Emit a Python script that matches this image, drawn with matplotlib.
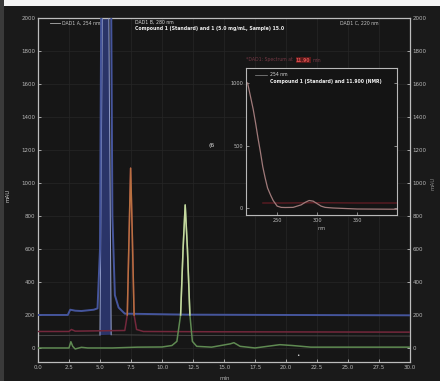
import matplotlib
matplotlib.use("Agg")
import matplotlib.pyplot as plt
from matplotlib.patches import Rectangle

# ---------------- data ----------------
# main chromatogram traces: retention time (min) vs signal (mAU)
blue_t = [0.0, 2.4, 2.6, 3.0, 3.5, 4.0, 4.5, 4.8, 5.0, 5.1, 5.5, 5.9, 6.0, 6.2, 6.5, 7.0, 12.0, 20.0, 30.0]
blue_v = [200, 200, 232, 226, 224, 228, 232, 240, 600, 2100, 3000, 2100, 800, 320, 245, 208, 202, 200, 198]

gray_t = [0.0, 5.0, 5.2, 5.45, 5.7, 5.9, 12.0, 30.0]
gray_v = [75, 78, 2100, 3000, 2100, 80, 76, 72]

red_t = [0.0, 2.5, 2.7, 3.0, 5.0, 7.0, 7.2, 7.35, 7.47, 7.6, 7.75, 7.95, 8.5, 15.0, 30.0]
red_v = [100, 100, 112, 102, 104, 106, 200, 700, 1090, 700, 200, 112, 100, 98, 96]

green_t = [0.0, 2.5, 2.65, 2.8, 3.0, 3.5, 4.0, 6.0, 8.0, 10.0, 10.8, 11.2, 11.5, 11.7, 11.87,
           12.05, 12.25, 12.45, 12.8, 14.0, 15.5, 15.8, 16.3, 17.5, 19.5, 20.5, 22.0, 30.0]
green_v = [0, 0, 38, 10, -6, 4, 0, 0, 5, 6, 15, 40, 200, 600, 867,
           600, 200, 40, 10, 5, 25, 32, 10, 0, 20, 15, 5, 5]

x_ticks = [0.0, 2.5, 5.0, 7.5, 10.0, 12.5, 15.0, 17.5, 20.0, 22.5, 25.0, 27.5, 30.0]
x_labels = ["0.0", "2.5", "5.0", "7.5", "10.0", "12.5", "15.0", "17.5", "20.0", "22.5", "25.0", "27.5", "30.0"]
y_ticks = [0, 200, 400, 600, 800, 1000, 1200, 1400, 1600, 1800, 2000]
y_labels = ["0", "200", "400", "600", "800", "1000", "1200", "1400", "1600", "1800", "2000"]

# inset UV spectrum: wavelength (nm) vs absorbance (mAU)
spec_nm = [213, 217, 220, 223, 226, 229, 232, 235, 238, 242, 245, 250, 255, 260, 270, 280, 285,
           290, 295, 300, 305, 310, 320, 350, 400]
spec_v = [1000, 880, 790, 680, 560, 450, 330, 240, 160, 100, 60, 15, 5, 4, 5, 25, 45,
          60, 55, 35, 15, 5, 0, -8, -10]
ref_nm = [232, 260, 300, 350, 400]
ref_v = [40, 40, 42, 40, 40]
in_x_ticks = [250, 300, 350]
in_y_ticks = [0, 500, 1000]

# ---------------- figure ----------------
W, H = 440, 381
BG = "#1a1a1a"
fig = plt.figure(figsize=(W / 100, H / 100), dpi=100, facecolor=BG)

def fx(px):
    return px / W

def fy(py):
    return 1 - py / H

# bright photo margins
fig.patches.append(Rectangle((0, fy(6)), 1, 6 / H, transform=fig.transFigure,
                             facecolor="#f4f4f4", edgecolor="none", zorder=0))
fig.patches.append(Rectangle((0, 0), 4 / W, 1, transform=fig.transFigure,
                             facecolor="#3a3a3a", edgecolor="none", zorder=0))

ax = fig.add_axes([fx(38), fy(362), fx(410) - fx(38), fy(18) - fy(362)], facecolor="#161616")
ax.set_xlim(0, 30)
ax.set_ylim(-85, 2000)

for s in ax.spines.values():
    s.set_color("#bdbdbd")
    s.set_linewidth(0.9)

ax.set_xticks(x_ticks)
ax.set_xticklabels(x_labels)
ax.set_yticks(y_ticks)
ax.set_yticklabels(y_labels)
ax.tick_params(axis="both", colors="#bdbdbd", labelsize=4, length=2, width=0.6,
               direction="in", pad=2, labelcolor="#b8b8b8")
ax.tick_params(axis="y", right=True, labelright=True)
ax.grid(True, color="#262626", linewidth=0.5)
ax.set_axisbelow(True)

# faint grey trace with its off-scale peak inside the blue band
ax.plot(gray_t, gray_v, color="#454545", linewidth=0.7, zorder=2)
gp_t = [t for t, v in zip(gray_t, gray_v) if v >= 78]
gp_v = [v for v in gray_v if v >= 78]
ax.fill(gp_t, gp_v, color="#2a3468", zorder=2, linewidth=0)
ax.plot(gp_t, gp_v, color="#8e9ac8", linewidth=0.7, zorder=3)

ax.plot(blue_t, blue_v, color="#45559c", linewidth=1.4, zorder=3)
ax.plot(red_t, red_v, color="#74283c", linewidth=1.1, zorder=3)
pk_t = [t for t, v in zip(red_t, red_v) if v >= 150]
pk_v = [v for v in red_v if v >= 150]
ax.plot(pk_t, pk_v, color="#b87040", linewidth=1.1, zorder=4)
ax.plot(green_t, green_v, color="#5f8a52", linewidth=1.1, zorder=4)
gk_t = [t for t, v in zip(green_t, green_v) if v >= 100]
gk_v = [v for v in green_v if v >= 100]
ax.plot(gk_t, gk_v, color="#c6d8a0", linewidth=1.1, zorder=5)

fig.text(fx(225), fy(378), "min", color="#b0b0b0", fontsize=4, ha="center", va="center")
fig.text(fx(8), fy(195), "mAU", color="#d0d0d0", fontsize=4, ha="center", va="center", rotation=90)
fig.text(fx(433), fy(183), "mAU", color="#8a8a8a", fontsize=4, ha="center", va="center", rotation=90)

# header legends
fig.lines.append(plt.Line2D([fx(50), fx(60)], [fy(23), fy(23)], transform=fig.transFigure,
                            color="#b0b0b0", linewidth=0.6))
fig.text(fx(62), fy(23), "DAD1 A, 254 nm", color="#c8c8c8", fontsize=3.3, va="center")
fig.text(fx(135), fy(22), "DAD1 B, 280 nm", color="#d8d8d8", fontsize=3.3, va="center")
fig.text(fx(135), fy(28.5), "Compound 1 (Standard) and 1 (5.0 mg/mL, Sample) 15.0",
         color="#eeeeee", fontsize=3.3, va="center", fontweight="bold")
fig.text(fx(340), fy(23), "DAD1 C, 220 nm", color="#c8c8c8", fontsize=3.3, va="center")
fig.text(fx(212), fy(145), "(6", color="#e0e0e0", fontsize=4.5, ha="center", va="center")
fig.text(fx(298), fy(356), "\u2022", color="#e0e0e0", fontsize=4, ha="center", va="center")

# ---------------- inset ----------------
ia = fig.add_axes([fx(246), fy(215), fx(397) - fx(246), fy(68) - fy(215)], facecolor="#141414")
ia.set_xlim(211, 400)
ia.set_ylim(-56, 1120)
for s in ia.spines.values():
    s.set_color("#b8b8b8")
    s.set_linewidth(0.8)
ia.set_xticks(in_x_ticks)
ia.set_yticks(in_y_ticks)
ia.tick_params(axis="both", colors="#b8b8b8", labelsize=3.6, length=2, width=0.5,
               direction="in", pad=2, labelcolor="#c0c0c0")
ia.tick_params(axis="y", right=True)
ia.plot(ref_nm, ref_v, color="#6e1e26", linewidth=0.8)
ia.plot(spec_nm, spec_v, color="#a07a7a", linewidth=0.9)
ia.set_xlabel("nm", color="#b8b8b8", fontsize=3.6, labelpad=2)

fig.text(fx(246), fy(60), "*DAD1: Spectrum at", color="#743844", fontsize=3.3, va="center")
fig.text(fx(296), fy(60), "11.90", color="#e05050", fontsize=3.3, va="center", fontweight="bold",
         bbox=dict(facecolor="#5a1a1a", edgecolor="none", pad=0.3))
fig.text(fx(313), fy(60), "min", color="#743844", fontsize=3.3, va="center")

ia.plot([0.06, 0.14], [0.955, 0.955], transform=ia.transAxes, color="#909090", linewidth=0.5)
ia.text(0.16, 0.955, "254 nm", transform=ia.transAxes, color="#d8d8d8", fontsize=3.3, va="center")
ia.text(0.16, 0.91, "Compound 1 (Standard) and 11.900 (NMR)", transform=ia.transAxes,
        color="#f0f0f0", fontsize=3.3, va="center", fontweight="bold")

fig.savefig("out.png", dpi=100, facecolor=BG)
